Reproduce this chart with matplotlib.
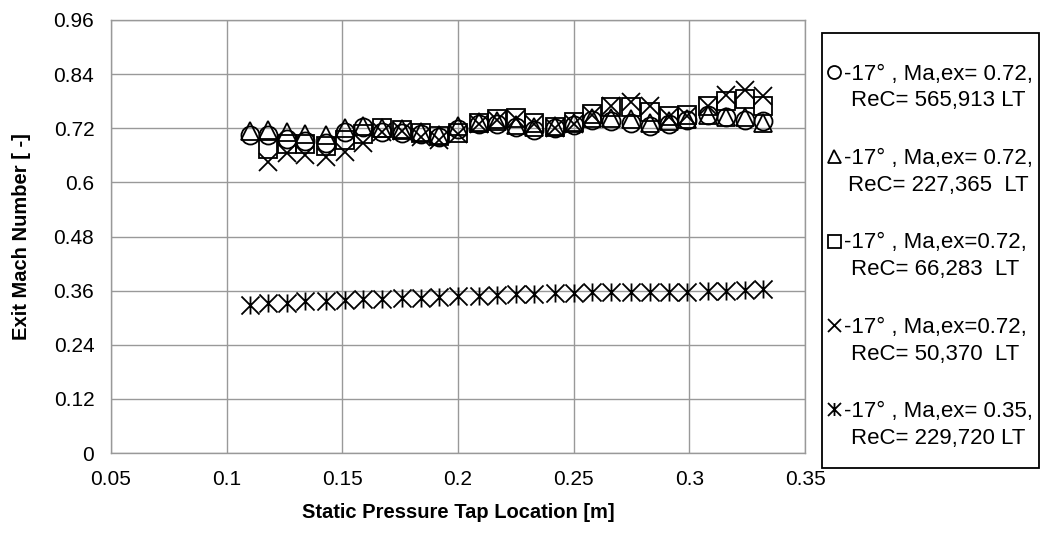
import numpy as np
import matplotlib
matplotlib.use("Agg")
import matplotlib.pyplot as plt
from matplotlib.path import Path
from matplotlib.patches import Rectangle
from matplotlib.legend_handler import HandlerLine2D

plt.rcParams['font.family'] = ['Liberation Sans', 'DejaVu Sans']

# tap locations [m]
x_taps = [0.110, 0.118, 0.126, 0.134, 0.143, 0.151, 0.159, 0.167, 0.176, 0.184,
          0.192, 0.200, 0.209, 0.217, 0.225, 0.233, 0.242, 0.250, 0.258, 0.266,
          0.275, 0.283, 0.291, 0.299, 0.308, 0.316, 0.324, 0.332]

# exit Mach number per case
ma_565913 = [0.705, 0.705, 0.696, 0.692, 0.688, 0.712, 0.722, 0.712, 0.710, 0.707,
             0.700, 0.718, 0.730, 0.730, 0.723, 0.716, 0.720, 0.728, 0.738, 0.736,
             0.732, 0.725, 0.730, 0.738, 0.750, 0.745, 0.738, 0.736]
ma_227365 = [0.715, 0.716, 0.712, 0.708, 0.704, 0.720, 0.726, 0.720, 0.718, 0.712,
             0.706, 0.724, 0.733, 0.735, 0.728, 0.722, 0.724, 0.732, 0.742, 0.743,
             0.740, 0.732, 0.735, 0.740, 0.750, 0.746, 0.744, 0.732]
# the two low-Re cases start at the second tap
ma_66283 = [0.673, 0.686, 0.686, 0.680, 0.694, 0.707, 0.720, 0.716, 0.709, 0.703,
            0.710, 0.731, 0.740, 0.743, 0.732, 0.723, 0.734, 0.752, 0.767, 0.767,
            0.756, 0.747, 0.750, 0.770, 0.780, 0.784, 0.769]
ma_50370 = [0.645, 0.665, 0.660, 0.656, 0.667, 0.687, 0.712, 0.715, 0.700, 0.695,
            0.708, 0.730, 0.738, 0.740, 0.730, 0.720, 0.730, 0.750, 0.769, 0.778,
            0.769, 0.745, 0.748, 0.769, 0.794, 0.805, 0.792]
ma_229720 = [0.328, 0.332, 0.333, 0.336, 0.336, 0.339, 0.341, 0.341, 0.343, 0.343,
             0.345, 0.348, 0.348, 0.350, 0.352, 0.353, 0.354, 0.354, 0.356, 0.356,
             0.357, 0.357, 0.357, 0.358, 0.359, 0.360, 0.361, 0.363]

labels = ['-17° , Ma,ex= 0.72,\nReC= 565,913 LT',
          '-17° , Ma,ex= 0.72,\nReC= 227,365  LT',
          '-17° , Ma,ex=0.72,\nReC= 66,283  LT',
          '-17° , Ma,ex=0.72,\nReC= 50,370  LT',
          '-17° , Ma,ex= 0.35,\nReC= 229,720 LT']

# excel-style star: X with a vertical bar
star = Path([(-1, -1), (1, 1), (-1, 1), (1, -1), (0, -1), (0, 1)],
            [Path.MOVETO, Path.LINETO, Path.MOVETO, Path.LINETO, Path.MOVETO, Path.LINETO])


class FirstLineHandler(HandlerLine2D):
    # put the legend marker level with the first text line
    def create_artists(self, legend, orig_handle, xdescent, ydescent, width, height,
                       fontsize, trans):
        arts = super().create_artists(legend, orig_handle, xdescent, ydescent, width,
                                      height, fontsize, trans)
        for a in arts:
            a.set_ydata(np.asarray(a.get_ydata()) + 0.72 * fontsize)
        return arts


fig = plt.figure(figsize=(10.41, 5.40), dpi=100)
ax = fig.add_axes([0.1066, 0.161, 0.6667, 0.802])

ms = 13
kw = dict(linestyle='none', markerfacecolor='none', markeredgecolor='black',
          markeredgewidth=1.3, markersize=ms, color='black')
ax.plot(x_taps, ma_565913, marker='o', label=labels[0], **kw)
ax.plot(x_taps, ma_227365, marker='^', label=labels[1], **kw)
ax.plot(x_taps[1:], ma_66283, marker='s', label=labels[2], **kw)
ax.plot(x_taps[1:], ma_50370, marker='x', label=labels[3], **kw)
ax.plot(x_taps, ma_229720, marker=star, label=labels[4], **kw)

ax.set_xlim(0.05, 0.35)
ax.set_ylim(0, 0.96)
ax.set_xticks([0.05, 0.1, 0.15, 0.2, 0.25, 0.3, 0.35])
ax.set_xticklabels(['0.05', '0.1', '0.15', '0.2', '0.25', '0.3', '0.35'])
ax.set_yticks([0, 0.12, 0.24, 0.36, 0.48, 0.6, 0.72, 0.84, 0.96])
ax.set_yticklabels(['0', '0.12', '0.24', '0.36', '0.48', '0.6', '0.72', '0.84', '0.96'])
ax.tick_params(length=0, labelsize=15, pad=12)
ax.grid(True, color='#999999', linewidth=1.0)
for s in ax.spines.values():
    s.set_color('#999999')
    s.set_linewidth(1.0)

ax.set_xlabel('Static Pressure Tap Location [m]', fontsize=14.5, fontweight='bold', labelpad=10)
ax.set_ylabel('Exit Mach Number [ -]', fontsize=14.5, fontweight='bold', labelpad=16)

# legend box drawn separately so the padding can differ top/side
fig.patches.append(Rectangle((0.7896, 0.1333), 0.2083, 0.8056, transform=fig.transFigure,
                             facecolor='white', edgecolor='black', linewidth=1.3, zorder=0))
hmap = {h: FirstLineHandler() for h in ax.get_lines()}
leg = fig.legend(loc='upper left', bbox_to_anchor=(0.7935, 0.8824), fontsize=16,
                 frameon=False, markerscale=0.72, handlelength=0.7, handletextpad=0.1,
                 labelspacing=1.66, borderpad=0, borderaxespad=0, handler_map=hmap)
for t in leg.get_texts():
    t.set_multialignment('center')
    t.set_linespacing(1.35)

fig.savefig('out.png', dpi=100)
